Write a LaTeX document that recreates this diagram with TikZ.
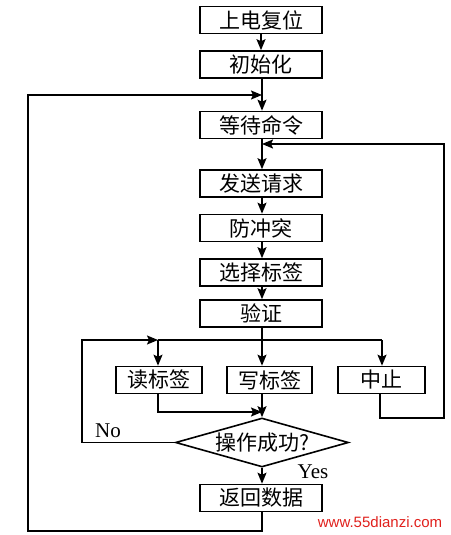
\documentclass[tikz,border=0pt]{standalone}
\usepackage{fontspec}
\setmainfont{Liberation Serif}
\newfontfamily\cjk{Noto Sans CJK SC}
\newfontfamily\wmfont{Liberation Sans}
\usetikzlibrary{shapes.geometric,arrows.meta}
\definecolor{wmred}{HTML}{E0201C}

\begin{document}
\begin{tikzpicture}[x=1pt,y=-1pt,
  line width=1.6pt,
  stepbox/.style={draw,rectangle,inner sep=0pt,minimum height=27pt,font=\cjk\fontsize{21}{21}\selectfont},
  ifbox/.style={draw,diamond,aspect=3.53,inner sep=0pt,minimum width=173pt,minimum height=49pt,font=\cjk\fontsize{21}{21}\selectfont},
  go/.style={-{Stealth[length=11pt,width=9pt,inset=2pt]}},
  yn/.style={font=\fontsize{21}{21}\selectfont}]
  \useasboundingbox (0,0) rectangle (450,535);
  % main column
  \node[stepbox,minimum width=122pt] (reset) at (261,20) {上电复位};
  \node[stepbox,minimum width=122pt] (init) at (261,64.5) {初始化};
  \node[stepbox,minimum width=122pt] (wait) at (261,125) {等待命令};
  \node[stepbox,minimum width=122pt] (req) at (261,183.5) {发送请求};
  \node[stepbox,minimum width=122pt] (anti) at (261,228) {防冲突};
  \node[stepbox,minimum width=122pt] (sel) at (261,272.5) {选择标签};
  \node[stepbox,minimum width=122pt] (ver) at (261,313.5) {验证};
  % branches
  \node[stepbox,minimum width=86pt] (read) at (159,380) {读标签};
  \node[stepbox,minimum width=85pt] (write) at (269.5,380) {写标签};
  \node[stepbox,minimum width=87pt] (stop) at (381.5,380) {中止};
  \node[ifbox] (ok) at (262,442.5) {操作成功?};
  \node[stepbox,minimum width=122pt] (ret) at (261,498) {返回数据};
  \node[yn] (no) at (108,431) {No};
  \node[yn] (yes) at (313,472) {Yes};
  \node[font=\wmfont\fontsize{15}{15}\selectfont,text=wmred] (wm) at (380,522) {www.55dianzi.com};
  % join points
  \coordinate (top) at (262,95);
  \coordinate (mid) at (262,144);
  \coordinate (bl) at (158,340);
  \coordinate (br) at (382,340);
  \coordinate (merge) at (262,412);
  % arrows
  \draw[go] (reset) -- (init);
  \draw[go] (init.south -| top) -- (wait.north -| top);
  \draw[go] (wait.south -| mid) -- (req.north -| mid);
  \draw[go] (req.south -| mid) -- (anti.north -| mid);
  \draw[go] (anti.south -| mid) -- (sel.north -| mid);
  \draw[go] (sel.south -| mid) -- (ver.north -| mid);
  \draw[go] (ver.south -| mid) -- (write.north -| mid);
  \draw (bl) -- (br);
  \draw[go] (bl) -- (bl |- read.north);
  \draw[go] (br) -- (br |- stop.north);
  \draw[go] (read.south -| bl) |- (merge);
  \draw[go] (write.south -| mid) -- (ok.north);
  \draw[go] (stop.south -| 380,0) |- (444,418) |- (mid);
  \draw[go] (ok.west) -| (82,340) -- (bl);
  \draw[go] (ok.south) -- (ret.north -| ok.south);
  \draw[go] (ret.south -| ok.south) |- (28,531) |- (top);
\end{tikzpicture}
\end{document}
